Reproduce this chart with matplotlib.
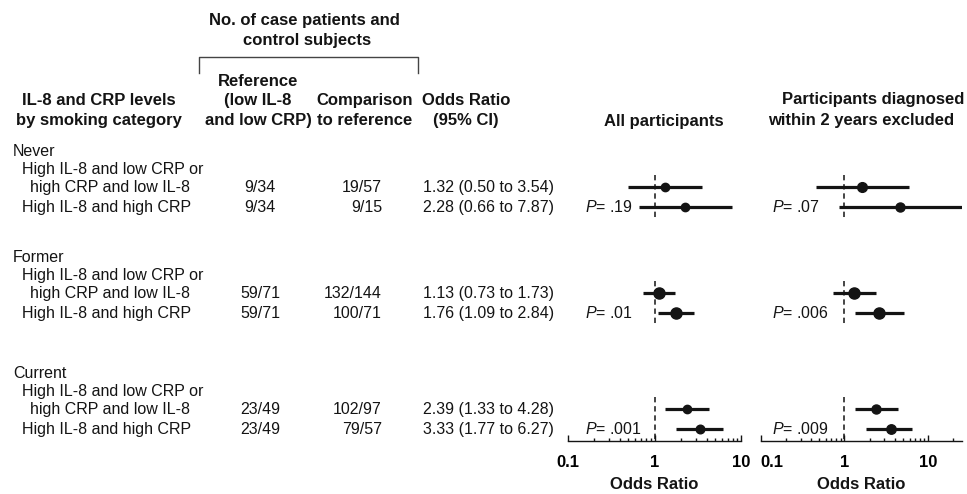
"""
Forest plot of IL-8 / CRP levels by smoking category, with the table
of counts and odds ratios drawn as text to the left.
"""

import matplotlib.pyplot as plt
import matplotlib.ticker as mticker

plt.rcParams["font.family"] = ["Liberation Sans", "DejaVu Sans"]
plt.rcParams["mathtext.fontset"] = "custom"
plt.rcParams["mathtext.rm"] = "Liberation Sans"
plt.rcParams["mathtext.it"] = "Liberation Sans:italic"

# Data
groups = ["Never", "Former", "Current"]
ref_counts = ["9/34", "9/34", "59/71", "59/71", "23/49", "23/49"]
cmp_counts = ["19/57", "9/15", "132/144", "100/71", "102/97", "79/57"]
or_text = [
    "1.32 (0.50 to 3.54)",
    "2.28 (0.66 to 7.87)",
    "1.13 (0.73 to 1.73)",
    "1.76 (1.09 to 2.84)",
    "2.39 (1.33 to 4.28)",
    "3.33 (1.77 to 6.27)",
]
or_all = [1.32, 2.28, 1.13, 1.76, 2.39, 3.33]
lo_all = [0.50, 0.66, 0.73, 1.09, 1.33, 1.77]
hi_all = [3.54, 7.87, 1.73, 2.84, 4.28, 6.27]
or_excl = [1.63, 4.64, 1.31, 2.60, 2.39, 3.62]
lo_excl = [0.46, 0.87, 0.73, 1.32, 1.35, 1.82]
hi_excl = [5.83, 25.0, 2.37, 5.08, 4.31, 6.40]
p_all = [".19", ".01", ".001"]
p_excl = [".07", ".006", ".009"]

# Layout (pixels from the top of a 967x494 figure)
W, H = 967, 494
group_top = [151, 257, 373]
offsets = [0, 18, 36, 56]
size_all = [6.0, 6.0, 8.0, 8.0, 6.0, 6.2]
size_excl = [7.0, 6.5, 8.0, 8.0, 6.5, 6.8]
ink = "#141414"
fs = 11.5
fsb = 12

fig = plt.figure(figsize=(W / 100, H / 100), dpi=100)

bg = fig.add_axes([0, 0, 1, 1])
bg.set_xlim(0, W)
bg.set_ylim(H, 0)
bg.axis("off")


def txt(x, y, s, ha="left", bold=False):
    bg.text(x, y, s, ha=ha, va="center", color=ink,
            fontsize=fsb if bold else fs,
            fontweight="bold" if bold else "normal")


# Column headers
txt(304, 20, "No. of case patients and", "center", True)
txt(307, 41, "control subjects", "center", True)
bg.plot([199, 199, 418, 418], [73, 57, 57, 73], color="#444444", lw=1)
for i, line in enumerate(["Reference", "(low IL-8", "and low CRP)"]):
    txt(258, 81 + 19.5 * i, line, "center", True)
for i, line in enumerate(["IL-8 and CRP levels", "by smoking category"]):
    txt(99, 100 + 20 * i, line, "center", True)
for i, line in enumerate(["Comparison", "to reference"]):
    txt(365, 100 + 20 * i, line, "center", True)
for i, line in enumerate(["Odds Ratio", "(95% CI)"]):
    txt(466, 100 + 20 * i, line, "center", True)
txt(664, 121, "All participants", "center", True)
txt(873, 99, "Participants diagnosed", "center", True)
txt(861, 120, "within 2 years excluded", "center", True)

# Table body
for g, name in enumerate(groups):
    top = group_top[g]
    txt(13, top + offsets[0], name)
    txt(22, top + offsets[1], "High IL-8 and low CRP or")
    txt(30, top + offsets[2], "high CRP and low IL-8")
    txt(22, top + offsets[3], "High IL-8 and high CRP")
    for k in range(2):
        i = 2 * g + k
        y = top + offsets[2 + k]
        txt(260, y, ref_counts[i], "center")
        txt(382, y, cmp_counts[i], "right")
        txt(423, y, or_text[i])
    txt(585, top + offsets[3], r"$\mathit{P}$= " + p_all[g])
    txt(772, top + offsets[3], r"$\mathit{P}$= " + p_excl[g])


def forest(x0, x1, xmax, ors, los, his, sizes):
    ax = fig.add_axes([x0 / W, (H - 441) / H, (x1 - x0) / W, 300 / H])
    ax.set_facecolor("none")
    ax.set_xscale("log")
    ax.set_xlim(0.1, xmax)
    ax.set_ylim(441, 141)
    for s in ["top", "left", "right"]:
        ax.spines[s].set_visible(False)
    ax.spines["bottom"].set_linewidth(1.0)
    ax.spines["bottom"].set_color(ink)
    ax.set_yticks([])
    ax.xaxis.set_major_locator(mticker.FixedLocator([0.1, 1, 10]))
    ax.xaxis.set_major_formatter(mticker.FixedFormatter(["0.1", "1", "10"]))
    ax.xaxis.set_minor_locator(mticker.LogLocator(subs=range(2, 10)))
    ax.xaxis.set_minor_formatter(mticker.NullFormatter())
    ax.tick_params(axis="x", which="major", direction="in", length=4,
                   width=1, color=ink, pad=10, labelsize=fsb)
    ax.tick_params(axis="x", which="minor", direction="in", length=2.5,
                   width=1, color=ink)
    for lab in ax.get_xticklabels():
        lab.set_fontweight("bold")
    ax.set_xlabel("Odds Ratio", fontsize=fsb, fontweight="bold",
                  color=ink, labelpad=5)

    for g in range(3):
        ya = group_top[g] + offsets[2]
        yb = group_top[g] + offsets[3]
        ax.vlines(1, ya - 12, yb + 12, color=ink, lw=1.1,
                  linestyles=(0, (3.5, 2.5)))
        for k, y in enumerate([ya, yb]):
            i = 2 * g + k
            ax.plot([los[i], his[i]], [y, y], color=ink, lw=2.3,
                    solid_capstyle="butt")
            ax.plot(ors[i], y, "o", color=ink, ms=sizes[i])
    return ax


forest(568, 741, 10, or_all, lo_all, hi_all, size_all)
ax2 = forest(760.7, 961.5, 25, or_excl, lo_excl, hi_excl, size_excl)
ax2.get_xticklabels()[0].set_horizontalalignment("left")

fig.savefig("out.png", dpi=100)
